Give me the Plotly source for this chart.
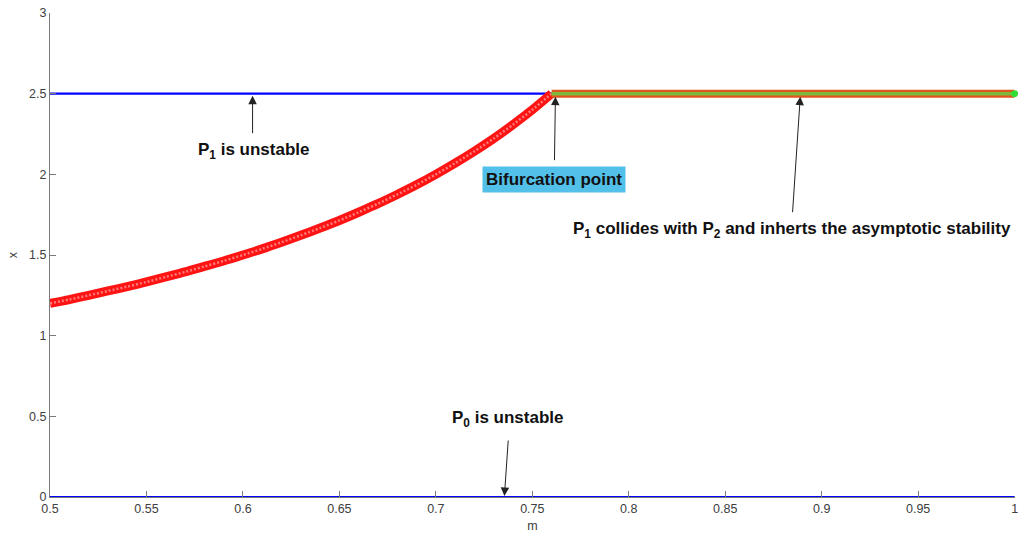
import plotly.graph_objects as go

# Parameter m and equilibrium branches
m_p2 = [0.50, 0.51, 0.52, 0.53, 0.54, 0.55, 0.56, 0.57, 0.58, 0.59, 0.60,
        0.61, 0.62, 0.63, 0.64, 0.65, 0.66, 0.67, 0.68, 0.69, 0.70,
        0.71, 0.72, 0.73, 0.74, 0.75, 0.76]
x_p2 = [1.200, 1.224, 1.250, 1.277, 1.304, 1.333, 1.364, 1.395, 1.429, 1.463, 1.500,
        1.538, 1.579, 1.622, 1.667, 1.714, 1.765, 1.818, 1.875, 1.935, 2.000,
        2.069, 2.143, 2.222, 2.308, 2.400, 2.500]

m_stable = [0.76, 1.00]
x_stable = [2.50, 2.50]

m_p1 = [0.50, 1.00]
x_p1 = [2.50, 2.50]

m_p0 = [0.50, 1.00]
x_p0 = [0.0, 0.0]

x_ticks = [0.5, 0.55, 0.6, 0.65, 0.7, 0.75, 0.8, 0.85, 0.9, 0.95, 1.0]
x_ticktext = ["0.5", "0.55", "0.6", "0.65", "0.7", "0.75", "0.8", "0.85", "0.9", "0.95", "1"]
y_ticks = [0, 0.5, 1, 1.5, 2, 2.5, 3]
y_ticktext = ["0", "0.5", "1", "1.5", "2", "2.5", "3"]

BLUE = "#0000ff"

fig = go.Figure()

# P0 and P1 (unstable) branches
fig.add_trace(go.Scatter(x=m_p0, y=x_p0, mode="lines",
                         line=dict(color=BLUE, width=2.2), showlegend=False,
                         cliponaxis=False))
fig.add_trace(go.Scatter(x=m_p1, y=x_p1, mode="lines",
                         line=dict(color=BLUE, width=2.2), showlegend=False))

# P2 branch: red circle markers
fig.add_trace(go.Scatter(x=m_p2, y=x_p2, mode="lines",
                         line=dict(color="#ff1414", width=9, shape="spline", smoothing=0.8),
                         showlegend=False))
fig.add_trace(go.Scatter(x=m_p2, y=x_p2, mode="lines",
                         line=dict(color="#ff7a7a", width=2.5, dash="2px,2px",
                                   shape="spline", smoothing=0.8),
                         showlegend=False))

# Stable branch after the bifurcation
fig.add_trace(go.Scatter(x=m_stable, y=x_stable, mode="lines",
                         line=dict(color="#e0541e", width=8), showlegend=False))
fig.add_trace(go.Scatter(x=m_stable, y=x_stable, mode="lines",
                         line=dict(color="#7cb83a", width=3.5), showlegend=False))
fig.add_trace(go.Scatter(x=[m_stable[-1]], y=[x_stable[-1]], mode="markers",
                         marker=dict(color="#33dd33", size=7, line=dict(width=0)),
                         showlegend=False, cliponaxis=False))

ann_font = dict(family="Liberation Sans, Arial, sans-serif", size=17, color="#111111")
arrow_common = dict(showarrow=True, arrowhead=2, arrowsize=1.7, arrowwidth=1,
                    arrowcolor="#222222", text="", axref="pixel", ayref="pixel")

annotations = [
    # P1 is unstable
    dict(x=0.605, y=2.5, ax=0, ay=41, standoff=2, **arrow_common),
    dict(x=0.6055, y=2.5, yshift=-57, text="<b>P<sub>1</sub> is unstable</b>",
         showarrow=False, font=ann_font),
    # Bifurcation point
    dict(x=0.762, y=2.5, ax=-1, ay=68, standoff=3, **arrow_common),
    dict(x=0.7615, y=2.5, yshift=-86, text="<b>Bifurcation point</b>",
         showarrow=False, font=ann_font, bgcolor="#52c0e8", borderpad=3),
    # P1 collides with P2
    dict(x=0.889, y=2.5, ax=-8, ay=120, standoff=3, **arrow_common),
    dict(x=0.8845, y=2.5, yshift=-136,
         text="<b>P<sub>1</sub> collides with P<sub>2</sub> and inherts the asymptotic stability</b>",
         showarrow=False, font=ann_font),
    # P0 is unstable
    dict(x=0.7355, y=0.0, ax=4, ay=-58, standoff=1, **arrow_common),
    dict(x=0.7375, y=0.0, yshift=78, text="<b>P<sub>0</sub> is unstable</b>",
         showarrow=False, font=ann_font),
]

axis_font = dict(family="Liberation Sans, Arial, sans-serif", size=12.5, color="#404040")

fig.update_layout(
    width=1018, height=538,
    margin=dict(l=50, r=3, t=13, b=41),
    paper_bgcolor="white", plot_bgcolor="white",
    annotations=annotations,
    xaxis=dict(range=[0.5, 1.0002], tickvals=x_ticks, ticktext=x_ticktext,
               showgrid=False, zeroline=False, showline=True, linecolor="#7a7a7a",
               linewidth=1, ticks="inside", ticklen=6, tickcolor="#7a7a7a",
               tickfont=axis_font, ticklabeloverflow="allow", automargin=False,
               title=dict(text="m", font=axis_font, standoff=6)),
    yaxis=dict(range=[0, 3], tickvals=y_ticks, ticktext=y_ticktext,
               showgrid=False, zeroline=False, showline=True, linecolor="#7a7a7a",
               linewidth=1, ticks="inside", ticklen=6, tickcolor="#7a7a7a",
               tickfont=axis_font, automargin=False,
               title=dict(text="x", font=axis_font, standoff=8)),
)

fig.write_html("out.html")
